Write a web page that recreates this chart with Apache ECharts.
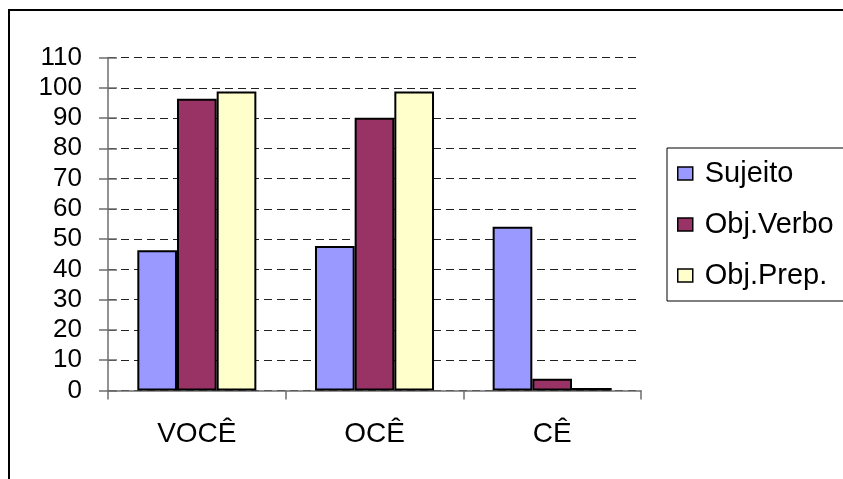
<!DOCTYPE html>
<html>
<head>
<meta charset="utf-8">
<script src="https://cdn.jsdelivr.net/npm/echarts@6/dist/echarts.min.js"></script>
<style>
  html, body { margin: 0; padding: 0; background: #fff; overflow: hidden; }
  #frame { position: absolute; left: 8px; top: 9px; width: 900px; height: 600px; border-left: 2px solid #000; border-top: 2px solid #000; box-sizing: border-box; }
  #chart { position: absolute; left: 0; top: 0; width: 843px; height: 479px; }
</style>
</head>
<body>
<div id="frame"></div>
<div id="chart"></div>
<script>
const categories = ['VOCÊ', 'OCÊ', 'CÊ'];
const seriesNames = ['Sujeito', 'Obj.Verbo', 'Obj.Prep.'];
const sujeito = [46.3, 47.7, 54.1];
const objVerbo = [96.4, 90.1, 3.9];
const objPrep = [98.8, 98.8, 0.8];
const colors = ['#9999FF', '#993366', '#FFFFCC'];

const font = "'Liberation Sans', Arial, sans-serif";
const chart = echarts.init(document.getElementById('chart'), null, { renderer: 'canvas' });
const dataSets = [sujeito, objVerbo, objPrep];

chart.setOption({
  animation: false,
  backgroundColor: 'transparent',
  grid: { left: 108, right: 202, top: 57.5, bottom: 88.5, containLabel: false },
  legend: {
    orient: 'vertical',
    left: 667, top: 148,
    padding: [11, 60, 11, 10],
    borderColor: '#000', borderWidth: 1,
    itemWidth: 15, itemHeight: 13, itemGap: 22,
    icon: 'rect',
    itemStyle: { borderColor: '#000', borderWidth: 1.5 },
    textStyle: { fontFamily: font, fontSize: 29, color: '#000', lineHeight: 28, padding: [0, 0, 0, 7] },
    data: seriesNames
  },
  xAxis: {
    type: 'category',
    data: categories,
    axisLine: { lineStyle: { color: '#6e6e6e', width: 1.5 } },
    axisTick: { show: true, length: 9, lineStyle: { color: '#6e6e6e', width: 1.5 } },
    axisLabel: { fontFamily: font, fontSize: 28, color: '#000', margin: 30, lineHeight: 28 },
    splitLine: { show: false }
  },
  yAxis: [{
    type: 'value', min: 0, max: 110, interval: 10,
    axisLine: { show: true, lineStyle: { color: '#6e6e6e', width: 1.5 } },
    axisTick: { show: true, length: 9, lineStyle: { color: '#6e6e6e', width: 1.5 } },
    axisLabel: { fontFamily: font, fontSize: 26, color: '#000', margin: 26 },
    splitLine: { show: true, lineStyle: { color: '#222', width: 1, type: [8, 5] } }
  }, {
    type: 'value', min: 0, max: 110, interval: 10, position: 'left',
    axisLine: { show: false },
    axisTick: { show: true, inside: true, length: 9, lineStyle: { color: '#6e6e6e', width: 1.5 } },
    axisLabel: { show: false },
    splitLine: { show: false }
  }],
  series: seriesNames.map((name, i) => ({
    name: name,
    type: 'bar',
    yAxisIndex: 0,
    data: dataSets[i],
    barGap: '0%',
    barCategoryGap: '33%',
    itemStyle: { color: colors[i], borderColor: '#000', borderWidth: 2 }
  }))
});
</script>
</body>
</html>
